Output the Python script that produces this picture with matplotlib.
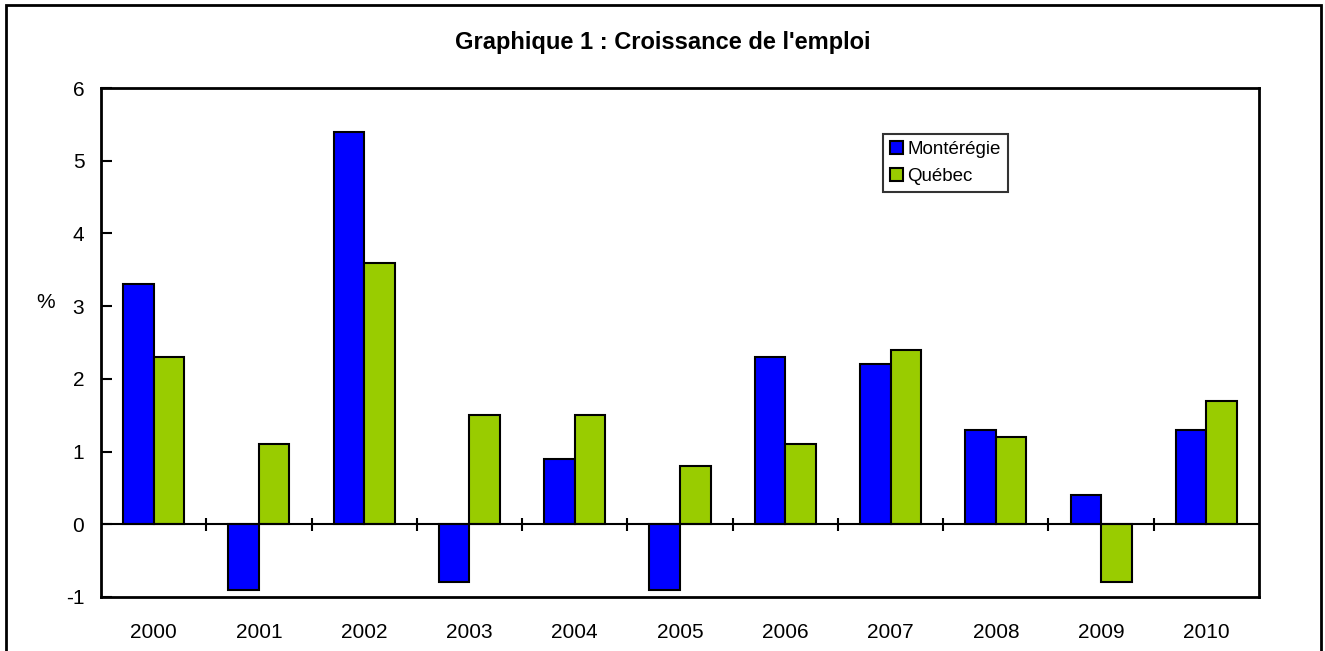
import numpy as np
import matplotlib.pyplot as plt
from matplotlib.patches import Rectangle

plt.rcParams['font.family'] = ['Liberation Sans', 'DejaVu Sans']
plt.rcParams['axes.unicode_minus'] = False

years = ['2000', '2001', '2002', '2003', '2004', '2005', '2006', '2007', '2008', '2009', '2010']
monteregie = [3.3, -0.9, 5.4, -0.8, 0.9, -0.9, 2.3, 2.2, 1.3, 0.4, 1.3]
quebec = [2.3, 1.1, 3.6, 1.5, 1.5, 0.8, 1.1, 2.4, 1.2, -0.8, 1.7]

fig = plt.figure(figsize=(13.25, 6.51), dpi=100)
ax = fig.add_axes([101 / 1325, 1 - 597 / 651, 1158 / 1325, 509 / 651])

# outer frame of the chart (bottom edge runs off the image)
fig.patches.append(Rectangle((6 / 1325, -0.02), 1315 / 1325, (646 / 651) + 0.02,
                             transform=fig.transFigure, fill=False,
                             edgecolor='black', linewidth=2))

x = np.arange(len(years))
w = 0.29
ax.bar(x - w / 2, monteregie, w, color='#0000FF', edgecolor='black', linewidth=1.5, label='Montérégie', zorder=2)
ax.bar(x + w / 2, quebec, w, color='#99CC00', edgecolor='black', linewidth=1.5, label='Québec', zorder=2)

ax.set_xlim(-0.5, len(years) - 0.5)
ax.set_ylim(-1, 6)
ax.set_yticks(range(-1, 7))
ax.tick_params(axis='y', direction='in', length=8, width=1.5, labelsize=15, pad=12)
ax.set_xticks(x)
ax.set_xticklabels(years, fontsize=15)
ax.tick_params(axis='x', length=0, pad=19)

for s in ax.spines.values():
    s.set_linewidth(2)

# zero line with category separators
ax.axhline(0, color='black', linewidth=1.5, zorder=3)
bounds = x[:-1] + 0.5
ax.vlines(bounds, -0.09, 0.09, color='black', linewidth=1.5, zorder=3)

ax.set_ylabel('%', rotation=0, fontsize=15)
ax.yaxis.set_label_coords(-0.048, 0.56)

fig.suptitle("Graphique 1 : Croissance de l'emploi", fontsize=17, fontweight='bold', y=0.953)

leg = ax.legend(loc='upper left', bbox_to_anchor=(0.675, 0.91), fontsize=13.5,
                frameon=True, fancybox=False, edgecolor='black', handlelength=0.7,
                handleheight=0.7, handletextpad=0.2, borderpad=0.4, labelspacing=0.5,
                borderaxespad=0)
leg.get_frame().set_linewidth(1.5)

fig.savefig('out.png', dpi=100)
